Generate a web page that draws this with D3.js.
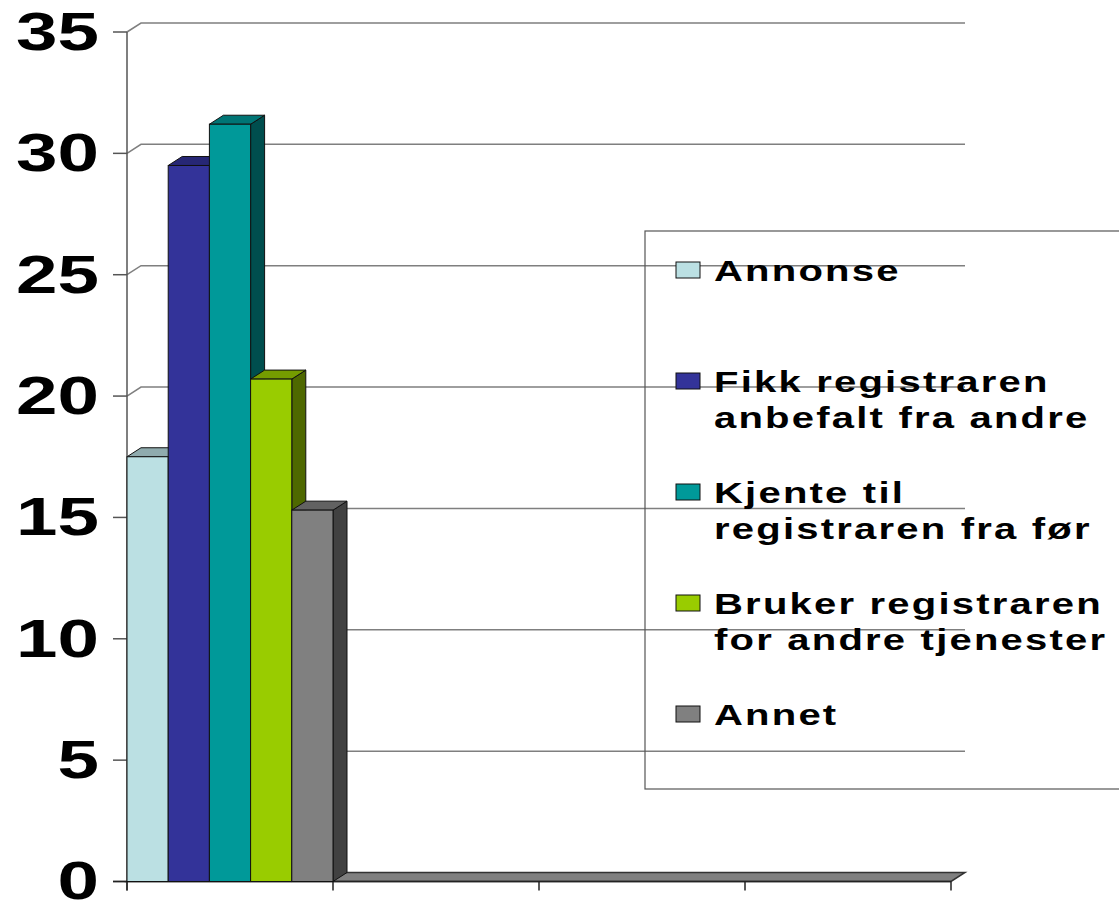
<!DOCTYPE html>
<html>
<head>
<meta charset="utf-8">
<script src="https://cdn.jsdelivr.net/npm/d3@7/dist/d3.min.js"></script>
<style>
  html, body { margin: 0; padding: 0; background: #fff; overflow: hidden; }
  svg { display: block; }
  text { font-family: "Liberation Sans", Arial, sans-serif; font-weight: bold; fill: #000; }
</style>
</head>
<body>
<svg id="chart" width="1119" height="901"></svg>
<script>
// ---- data ----
const categories = ["1", "2", "3", "4"];
const seriesNames = [
  "Annonse",
  "Fikk registraren anbefalt fra andre",
  "Kjente til registraren fra før",
  "Bruker registraren for andre tjenester",
  "Annet"
];
const legendLines = [
  ["Annonse"],
  ["Fikk registraren", "anbefalt fra andre"],
  ["Kjente til", "registraren fra før"],
  ["Bruker registraren", "for andre tjenester"],
  ["Annet"]
];
const seriesValues = [17.5, 29.5, 31.2, 20.7, 15.3]; // first category only
const seriesColors = ["#BBE0E3", "#333399", "#009999", "#99CC00", "#808080"];
const yTicks = [0, 5, 10, 15, 20, 25, 30, 35];

(function () {
// ---- layout ----
const svg = d3.select("#chart");
const pLeft = 127, pRight = 951, pBottom = 881.5, pTop = 32;
const dx = 14, dy = -9;
const sx = 1.38;

const y = d3.scaleLinear().domain([0, 35]).range([pBottom, pTop]);
const xCat = d3.scaleBand().domain(categories).range([pLeft, pRight]).padding(0);
const xSer = d3.scaleBand().domain(d3.range(seriesNames.length)).range([0, xCat.bandwidth()]).padding(0);

// gridlines (back wall) with depth connector
const grid = svg.append("g");
yTicks.filter(v => v > 0).forEach(v => {
  grid.append("path")
    .attr("d", `M${pLeft},${y(v)} L${pLeft + dx},${y(v) + dy} L${pRight + dx},${y(v) + dy}`)
    .attr("fill", "none").attr("stroke", "#7f7f7f").attr("stroke-width", 1.5);
});

// floor
svg.append("path")
  .attr("d", `M${pLeft},${pBottom} L${pRight},${pBottom} L${pRight + dx},${pBottom + dy} L${pLeft + dx},${pBottom + dy} Z`)
  .attr("fill", "#808080").attr("stroke", "#333").attr("stroke-width", 1.5);

// y axis
const yAxisG = svg.append("g");
yAxisG.append("line").attr("x1", pLeft).attr("x2", pLeft).attr("y1", y(35)).attr("y2", pBottom + 9)
  .attr("stroke", "#555").attr("stroke-width", 1.5);
yTicks.forEach(v => {
  yAxisG.append("line").attr("x1", pLeft - 14).attr("x2", pLeft).attr("y1", y(v)).attr("y2", y(v))
    .attr("stroke", "#555").attr("stroke-width", 1.5);
  yAxisG.append("g").attr("transform", `translate(99,${y(v) - 1.5}) scale(${sx},1)`)
    .append("text")
    .attr("text-anchor", "end")
    .attr("dy", "0.36em")
    .attr("font-size", 54)
    .text(v);
});

// x axis line and ticks
svg.append("line").attr("x1", pLeft - 14).attr("x2", pRight).attr("y1", pBottom).attr("y2", pBottom)
  .attr("stroke", "#222").attr("stroke-width", 1.5);
categories.concat(["end"]).forEach((c, i) => {
  const xx = i < categories.length ? xCat(c) : pRight;
  svg.append("line").attr("x1", xx).attr("x2", xx).attr("y1", pBottom).attr("y2", pBottom + 9)
    .attr("stroke", "#222").attr("stroke-width", 1.5);
});

// bars (first category)
const bars = svg.append("g");
seriesValues.forEach((v, i) => {
  const x0 = xCat(categories[0]) + xSer(i);
  const x1 = x0 + xSer.bandwidth();
  const yt = y(v);
  const col = seriesColors[i];
  bars.append("path")
    .attr("d", `M${x1},${yt} L${x1 + dx},${yt + dy} L${x1 + dx},${pBottom + dy} L${x1},${pBottom} Z`)
    .attr("fill", d3.rgb(col).darker(1.9)).attr("stroke", "#111").attr("stroke-width", 1);
  bars.append("path")
    .attr("d", `M${x0},${yt} L${x1},${yt} L${x1 + dx},${yt + dy} L${x0 + dx},${yt + dy} Z`)
    .attr("fill", d3.rgb(col).darker(0.75)).attr("stroke", "#111").attr("stroke-width", 1);
  bars.append("rect")
    .attr("x", x0).attr("y", yt).attr("width", x1 - x0).attr("height", pBottom - yt)
    .attr("fill", col).attr("stroke", "#111").attr("stroke-width", 1);
});

// legend
const lg = svg.append("g");
lg.append("rect").attr("x", 645).attr("y", 231).attr("width", 600).attr("height", 558)
  .attr("fill", "none").attr("stroke", "#555").attr("stroke-width", 1.2);
const legendY = d3.scalePoint().domain(d3.range(seriesNames.length)).range([270, 714]);
seriesNames.forEach((name, i) => {
  const cy = legendY(i);
  lg.append("rect").attr("x", 676).attr("y", cy - 8).attr("width", 24).attr("height", 16)
    .attr("fill", seriesColors[i]).attr("stroke", "#111").attr("stroke-width", 1);
  legendLines[i].forEach((line, j) => {
    lg.append("g").attr("transform", `translate(714,${cy + 11 + j * 36}) scale(${sx},1)`)
      .append("text")
      .attr("font-size", 29)
      .attr("letter-spacing", 1.6)
      .text(line);
  });
});
})();
</script>
</body>
</html>
